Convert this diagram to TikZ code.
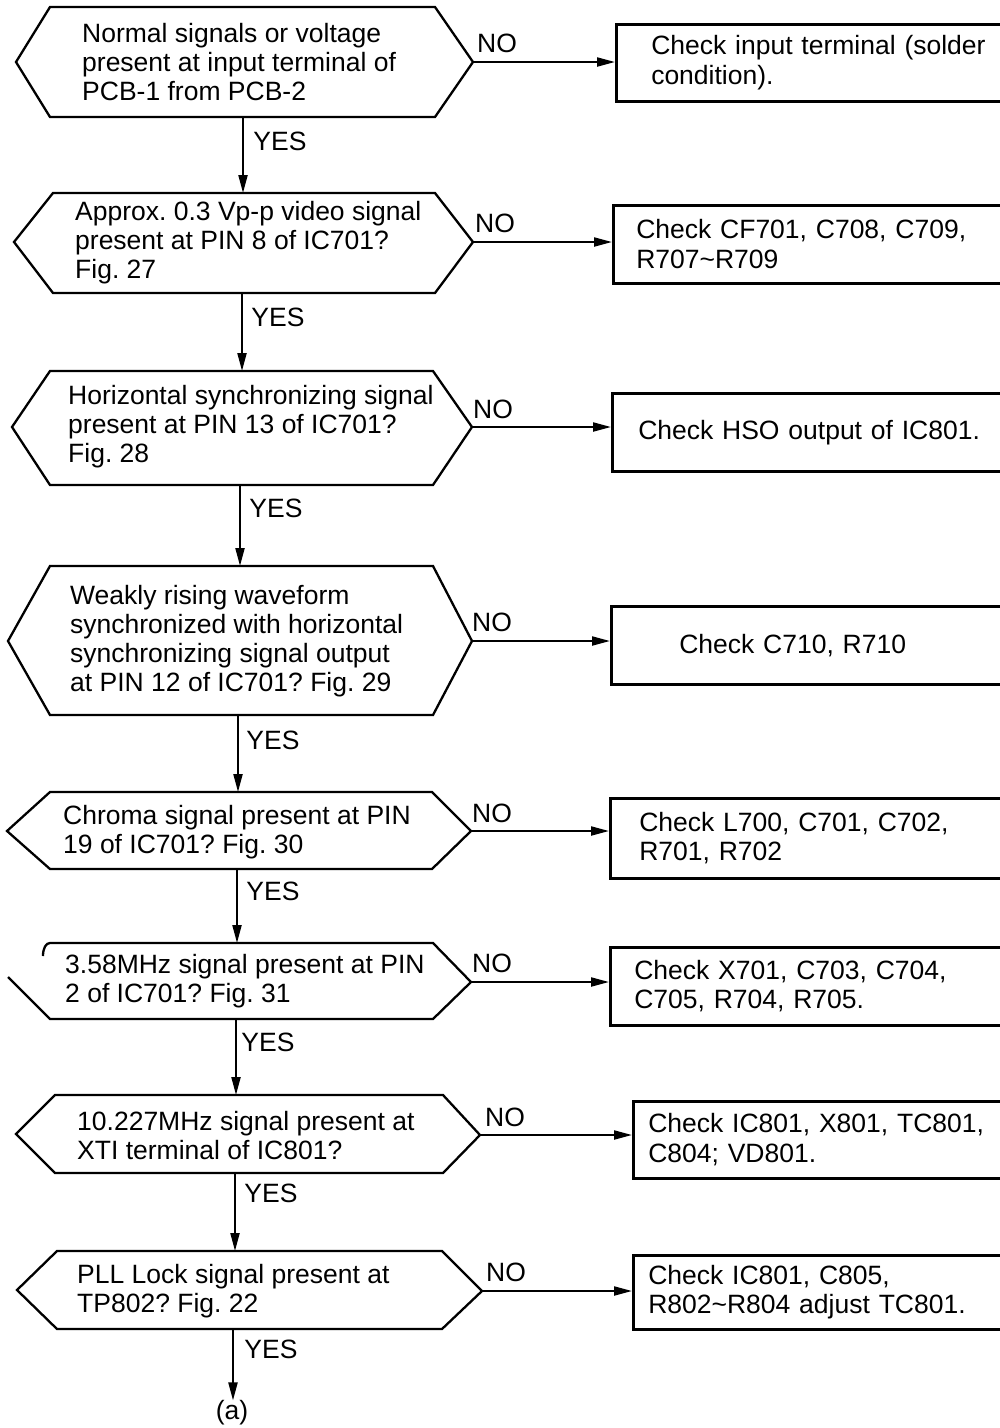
\documentclass[tikz,border=0pt]{standalone}
\usepackage{fontspec}
\setmainfont{Liberation Sans}
\usetikzlibrary{arrows.meta}
\usetikzlibrary{positioning}
\frenchspacing

\begin{document}
\begin{tikzpicture}[x=1pt,y=1pt,yscale=-1,xscale=1,
  qline/.style={line width=2.3pt, line join=miter},
  qtext/.style={anchor=west, align=left, inner sep=0pt, font=\fontsize{26.5}{29}\selectfont},
  chkbox/.style={draw, line width=2.5pt, anchor=north west, align=left, text width=380pt, inner ysep=0pt, font=\fontsize{26.5}{29.5}\selectfont},
  lbl/.style={inner sep=0pt, font=\fontsize{26.5}{29}\selectfont},
  arr/.style={line width=2.1pt, -{Triangle[length=18pt,width=9pt]}}]
  \useasboundingbox (0,0) rectangle (1000,1428);
  \clip (0,0) rectangle (1000,1428);

  %Shape: Hexagon [q1]
  \draw [qline] (50,7) coordinate (q1nw) -- (435,7) -- (473,62) coordinate (q1e) -- (435,117) -- (50,117) -- (16,62) -- cycle ;
  %Shape: Hexagon [q2]
  \draw [qline] (53,193) coordinate (q2nw) -- (435,193) -- (473,242) coordinate (q2e) -- (435,293) -- (53,293) -- (14,242) -- cycle ;
  %Shape: Hexagon [q3]
  \draw [qline] (50,371) coordinate (q3nw) -- (433,371) -- (472,427) coordinate (q3e) -- (433,485) -- (50,485) -- (12,427) -- cycle ;
  %Shape: Hexagon [q4]
  \draw [qline] (50,566) coordinate (q4nw) -- (433,566) -- (472,641) coordinate (q4e) -- (433,715) -- (50,715) -- (8,641) -- cycle ;
  %Shape: Hexagon [q5]
  \draw [qline] (50,792) coordinate (q5nw) -- (432,792) -- (471,831) coordinate (q5e) -- (432,869) -- (50,869) -- (7,831) -- cycle ;
  %Shape: Hexagon [q6] (upper left edge broken)
  \draw [qline] (43,956) .. controls (43,948) and (46,943) .. (50,943) coordinate (q6nw) -- (433,943) -- (471,982) coordinate (q6e) -- (433,1019) -- (50,1019) -- (8,977) ;
  %Shape: Hexagon [q7]
  \draw [qline] (55,1095) coordinate (q7nw) -- (443,1095) -- (480,1135) coordinate (q7e) -- (443,1173) -- (55,1173) -- (16,1134) -- cycle ;
  %Shape: Hexagon [q8]
  \draw [qline] (57,1251) coordinate (q8nw) -- (442,1251) -- (482,1291) coordinate (q8e) -- (442,1329) -- (57,1329) -- (17,1290) -- cycle ;

  % Text Node
  \node [qtext] (q1) at (82,62) {Normal signals or voltage\\present at input terminal of\\PCB-1 from PCB-2};
  % Text Node
  \node [qtext] (q2) at (75,243) {Approx. 0.3 Vp-p video signal\\present at PIN 8 of IC701?\\Fig. 27};
  % Text Node
  \node [qtext] (q3) at (68,427) {Horizontal synchronizing signal\\present at PIN 13 of IC701?\\Fig. 28};
  % Text Node
  \node [qtext] (q4) at (70,641) {Weakly rising waveform\\synchronized with horizontal\\synchronizing signal output\\at PIN 12 of IC701? Fig. 29};
  % Text Node
  \node [qtext] (q5) at (63,832) {Chroma signal present at PIN\\19 of IC701? Fig. 30};
  % Text Node
  \node [qtext] (q6) at (65,981) {3.58MHz signal present at PIN\\2 of IC701? Fig. 31};
  % Text Node
  \node [qtext] (q7) at (77,1136) {10.227MHz signal present at\\XTI terminal of IC801?};
  % Text Node
  \node [qtext] (q8) at (77,1291) {PLL Lock signal present at\\TP802? Fig. 22};

  %Rect [c1..c8]
  \node [chkbox, minimum height=77pt, inner xsep=35pt] (c1) at (615,23) {Check input terminal (solder\\condition).};
  \node [chkbox, minimum height=78pt, inner xsep=23pt] (c2) at (612,204) {Check CF701, C708, C709,\\R707\textasciitilde R709};
  \node [chkbox, minimum height=78pt, inner xsep=26pt] (c3) at (611,392) {Check HSO output of IC801.};
  \node [chkbox, minimum height=78pt, inner xsep=68pt] (c4) at (610,605) {Check C710, R710};
  \node [chkbox, minimum height=80pt, inner xsep=29pt] (c5) at (609,797) {Check L700, C701, C702,\\R701, R702};
  \node [chkbox, minimum height=78pt, inner xsep=24pt] (c6) at (609,946) {Check X701, C703, C704,\\C705, R704, R705.};
  \node [chkbox, minimum height=77pt, inner xsep=15pt] (c7) at (632,1100) {Check IC801, X801, TC801,\\C804; VD801.};
  \node [chkbox, minimum height=74pt, inner xsep=15pt] (c8) at (632,1254) {Check IC801, C805,\\R802\textasciitilde R804 adjust TC801.};

  %Straight Lines: NO branches
  \foreach \i in {1,...,8} {
    \draw [arr] (q\i e) -- (q\i e -| c\i.west) ;
  }

  % Text Node: NO labels
  \node [lbl] (n1) at (497,43) {NO};
  \node [lbl] (n2) at (495,223) {NO};
  \node [lbl] (n3) at (493,409) {NO};
  \node [lbl] (n4) at (492,622) {NO};
  \node [lbl] (n5) at (492,813) {NO};
  \node [lbl] (n6) at (492,963) {NO};
  \node [lbl] (n7) at (505,1117) {NO};
  \node [lbl] (n8) at (506,1272) {NO};

  %Straight Lines: YES branches
  \coordinate (s1) at (243,117);
  \coordinate (s2) at (242,293);
  \coordinate (s3) at (240,485);
  \coordinate (s4) at (238,715);
  \coordinate (s5) at (237,869);
  \coordinate (s6) at (236,1019);
  \coordinate (s7) at (235,1173);
  \coordinate (s8) at (233,1329);
  \foreach \i/\j in {1/2,2/3,3/4,4/5,5/6,6/7,7/8} {
    \draw [arr] (s\i) -- (s\i |- q\j nw) ;
  }
  % Text Node
  \node [lbl] (a) at (232,1413) {(a)};
  \draw [arr] (s8) -- (s8 |- a.north) ;

  % Text Node: YES labels
  \node [lbl] (y1) at (280,141) {YES};
  \node [lbl] (y2) at (278,317) {YES};
  \node [lbl] (y3) at (276,508) {YES};
  \node [lbl] (y4) at (273,740) {YES};
  \node [lbl] (y5) at (273,891) {YES};
  \node [lbl] (y6) at (268,1042) {YES};
  \node [lbl] (y7) at (271,1193) {YES};
  \node [lbl] (y8) at (271,1349) {YES};
\end{tikzpicture}
\end{document}
